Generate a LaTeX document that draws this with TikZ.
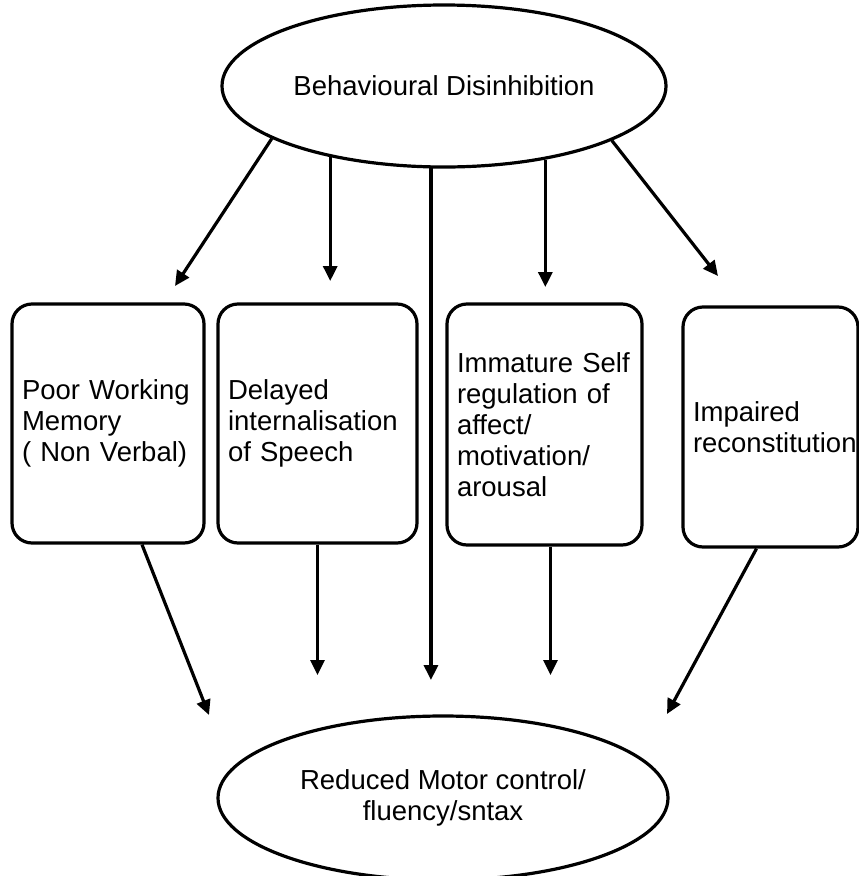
\documentclass[tikz,border=0pt]{standalone}
\usepackage{fontspec}
\setmainfont{Liberation Sans}
\usetikzlibrary{shapes.geometric,arrows.meta}

\begin{document}
\begin{tikzpicture}[x=1pt,y=-1pt,
  every node/.style={font=\fontsize{27.5}{31}\selectfont},
  oval/.style={ellipse,draw,line width=3.2pt,inner sep=0pt,align=center},
  box/.style={rectangle,draw,line width=3.2pt,rounded corners=20pt,
    inner xsep=10pt,inner ysep=0pt,align=left},
  link/.style={line width=3.2pt,-{Triangle[length=15pt,width=14pt]}}]
\useasboundingbox (0,0) rectangle (859,876);

% top and bottom ellipses
\node[oval,minimum width=444pt,minimum height=162pt] (bd) at (444,86)
  {Behavioural Disinhibition};
\node[oval,minimum width=450pt,minimum height=164pt] (rm) at (443,798)
  {Reduced Motor control/\\fluency/sntax};

% the four intermediate boxes
\node[box,text width=172pt,minimum height=239pt] (b1) at (108,423.5)
  {Poor Working\\Memory\\( Non Verbal)};
\node[box,text width=179pt,minimum height=239pt] (b2) at (317.5,423.5)
  {Delayed\\internalisation\\of Speech};
\node[box,text width=175pt,minimum height=241pt] (b3) at (544.5,424.5)
  {Immature Self\\regulation of\\affect/\\motivation/\\arousal};
\node[box,text width=155pt,minimum height=240pt] (b4) at (770.5,427)
  {Impaired\\reconstitution};

% arrow tips (free ends)
\coordinate (t1) at (175,286);
\coordinate (t2) at (332,281);
\coordinate (t3) at (432,680);
\coordinate (t4) at (544,287);
\coordinate (t5) at (718,276);
\coordinate (u1) at (209,715);
\coordinate (u2) at (317,675);
\coordinate (u3) at (551,675);
\coordinate (u4) at (667,714);

% arrows out of the top ellipse
\draw[link] (bd.197.6) -- (t1);
\draw[link] (bd.212) -- (bd.212 |- t2);
\draw[link] (bd.261.6) -- (bd.261.6 |- t3);
\draw[link] (bd.324.1) -- (bd.324.1 |- t4);
\draw[link] (bd.342.3) -- (t5);

% arrows out of the boxes
\draw[link] ([xshift=34pt]b1.south) -- (u1);
\draw[link] (b2.south) -- (b2.south |- u2);
\draw[link] ([xshift=6pt]b3.south) -- ([xshift=6pt]b3.south |- u3);
\draw[link] ([xshift=-14pt]b4.south) -- (u4);
\end{tikzpicture}
\end{document}
